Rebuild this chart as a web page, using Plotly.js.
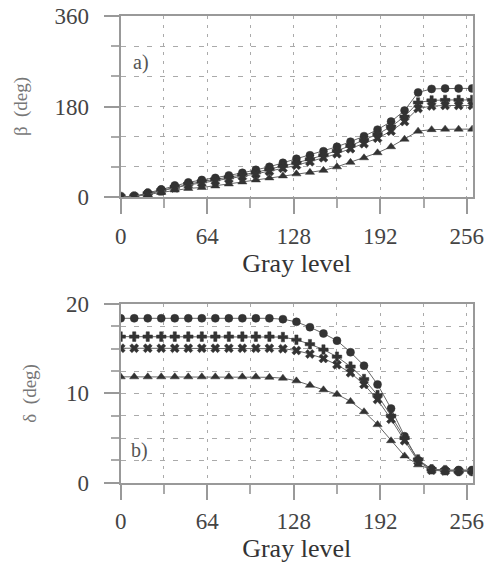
<!DOCTYPE html>
<html>
<head>
<meta charset="utf-8">
<script src="https://cdn.plot.ly/plotly-3.0.1.min.js"></script>
<style>html,body{margin:0;padding:0;background:#fff;}#chart{width:487px;height:563px;}</style>
</head>
<body>
<div id="chart"></div>
<script>
// Gray levels (x)
const grayLevels = [0,10,20,30,40,50,60,70,80,90,100,110,120,130,140,150,160,170,180,190,200,210,220,230,240,250,260];

// Panel a) beta (deg)
const beta1 = [0,1,8,15,23,29,34,38,43,48,54,60,68,76,83,91,100,110,121,134,150,172,208,215,216,216,216];
const beta2 = [0,1,7,13,20,26,31,35,39,44,49,55,62,68,75,83,92,102,113,125,140,160,188,192,193,193,193];
const beta3 = [0,1,6,12,18,24,28,32,36,41,46,51,57,63,70,78,86,96,106,117,131,150,176,181,182,182,182];
const beta4 = [0,1,5,9,14,17,19,22,26,30,34,38,42,46,49,53,60,69,78,88,100,115,131,134,135,135,135];

// Panel b) delta (deg)
const delta1 = [18.4,18.4,18.4,18.4,18.4,18.4,18.4,18.4,18.4,18.4,18.4,18.4,18.3,18.0,17.4,16.7,15.9,14.6,13.1,11.0,8.3,5.2,2.5,1.5,1.4,1.4,1.4];
const delta2 = [16.35,16.35,16.35,16.35,16.35,16.35,16.35,16.35,16.35,16.35,16.35,16.35,16.3,16.0,15.5,14.9,14.1,13.0,11.6,9.8,7.5,5.0,2.6,1.5,1.4,1.3,1.3];
const delta3 = [15.05,15.05,15.05,15.05,15.05,15.05,15.05,15.05,15.05,15.05,15.05,15.05,15.0,14.8,14.4,13.9,13.2,12.3,11.0,9.3,7.1,4.7,2.4,1.4,1.3,1.3,1.3];
const delta4 = [11.85,11.85,11.85,11.85,11.85,11.85,11.85,11.85,11.85,11.85,11.85,11.8,11.7,11.4,10.9,10.4,9.9,9.1,7.95,6.5,4.7,3.0,2.0,1.5,1.4,1.4,1.4];

const symbols = ['circle','cross','x','triangle-up'];
const fontFam = 'Liberation Serif';

function mk(y, i, xa, ya){
  return {x: grayLevels, y: y, xaxis: xa, yaxis: ya, mode: 'lines+markers', type: 'scatter',
    showlegend: false,
    line: {color: '#666', width: 1},
    marker: {symbol: symbols[i], size: 8, color: '#333', line: {color: '#333', width: 0.5}}};
}

const data = [
  mk(beta1,0,'x','y'), mk(beta2,1,'x','y'), mk(beta3,2,'x','y'), mk(beta4,3,'x','y'),
  mk(delta1,0,'x2','y2'), mk(delta2,1,'x2','y2'), mk(delta3,2,'x2','y2'), mk(delta4,3,'x2','y2')
];

const xdom = [120.7/487, 472.7/487];
function xax(anchor){
  return {domain: xdom, anchor: anchor, range: [0, 260.4], dtick: 64, tick0: 0,
    showline: true, mirror: true, linecolor: '#999', linewidth: 2,
    ticks: 'outside', ticklen: 15, tickwidth: 2, tickcolor: '#999',
    ticklabelstandoff: 2,
    tickfont: {family: fontFam, size: 23, color: '#444'},
    showgrid: true, gridcolor: '#aaa', gridwidth: 1, griddash: '3px,6px',
    minor: {dtick: 32, ticks: 'outside', ticklen: 9, tickwidth: 2, tickcolor: '#aaa', showgrid: true, gridcolor: '#aaa', gridwidth: 1, griddash: '3px,6px'},
    zeroline: false, fixedrange: true,
    title: {text: 'Gray level', font: {family: fontFam, size: 26, color: '#333'}, standoff: 0}};
}
function yax(anchor, dom, range, dtick, mdtick, title, standoff){
  return {domain: dom, anchor: anchor, range: range, dtick: dtick, tick0: 0,
    showline: true, mirror: true, linecolor: '#999', linewidth: 2,
    ticks: 'outside', ticklen: 15, tickwidth: 2, tickcolor: '#999',
    ticklabelstandoff: 10,
    tickfont: {family: fontFam, size: 23, color: '#444'},
    showgrid: true, gridcolor: '#aaa', gridwidth: 1, griddash: '5px,8px',
    minor: {dtick: mdtick, ticks: 'outside', ticklen: 8, tickwidth: 2, tickcolor: '#aaa', showgrid: true, gridcolor: '#aaa', gridwidth: 1, griddash: '5px,8px'},
    zeroline: false, fixedrange: true,
    title: {text: title, font: {family: fontFam, size: 19, color: '#777'}, standoff: standoff}};
}

const layout = {
  width: 487, height: 563,
  margin: {l: 0, r: 0, t: 0, b: 0},
  font: {family: fontFam},
  paper_bgcolor: '#fff', plot_bgcolor: '#fff',
  xaxis: xax('y'),
  yaxis: yax('x', [1-197/563, 1-16/563], [0, 360], 180, 60, 'β  (deg)', 22),
  xaxis2: xax('y2'),
  yaxis2: yax('x2', [1-482.7/563, 1-304/563], [0, 20], 10, 2.5, 'δ  (deg)', 24),
  annotations: [
    {text: 'a)', xref: 'paper', yref: 'paper', x: 141/487, y: 1-62/563, xanchor: 'center', yanchor: 'middle', showarrow: false,
     font: {family: fontFam, size: 20, color: '#555'}},
    {text: 'b)', xref: 'paper', yref: 'paper', x: 139/487, y: 1-450/563, xanchor: 'center', yanchor: 'middle', showarrow: false,
     font: {family: fontFam, size: 20, color: '#555'}}
  ]
};

Plotly.newPlot('chart', data, layout, {displayModeBar: false, staticPlot: true});
</script>
</body>
</html>
